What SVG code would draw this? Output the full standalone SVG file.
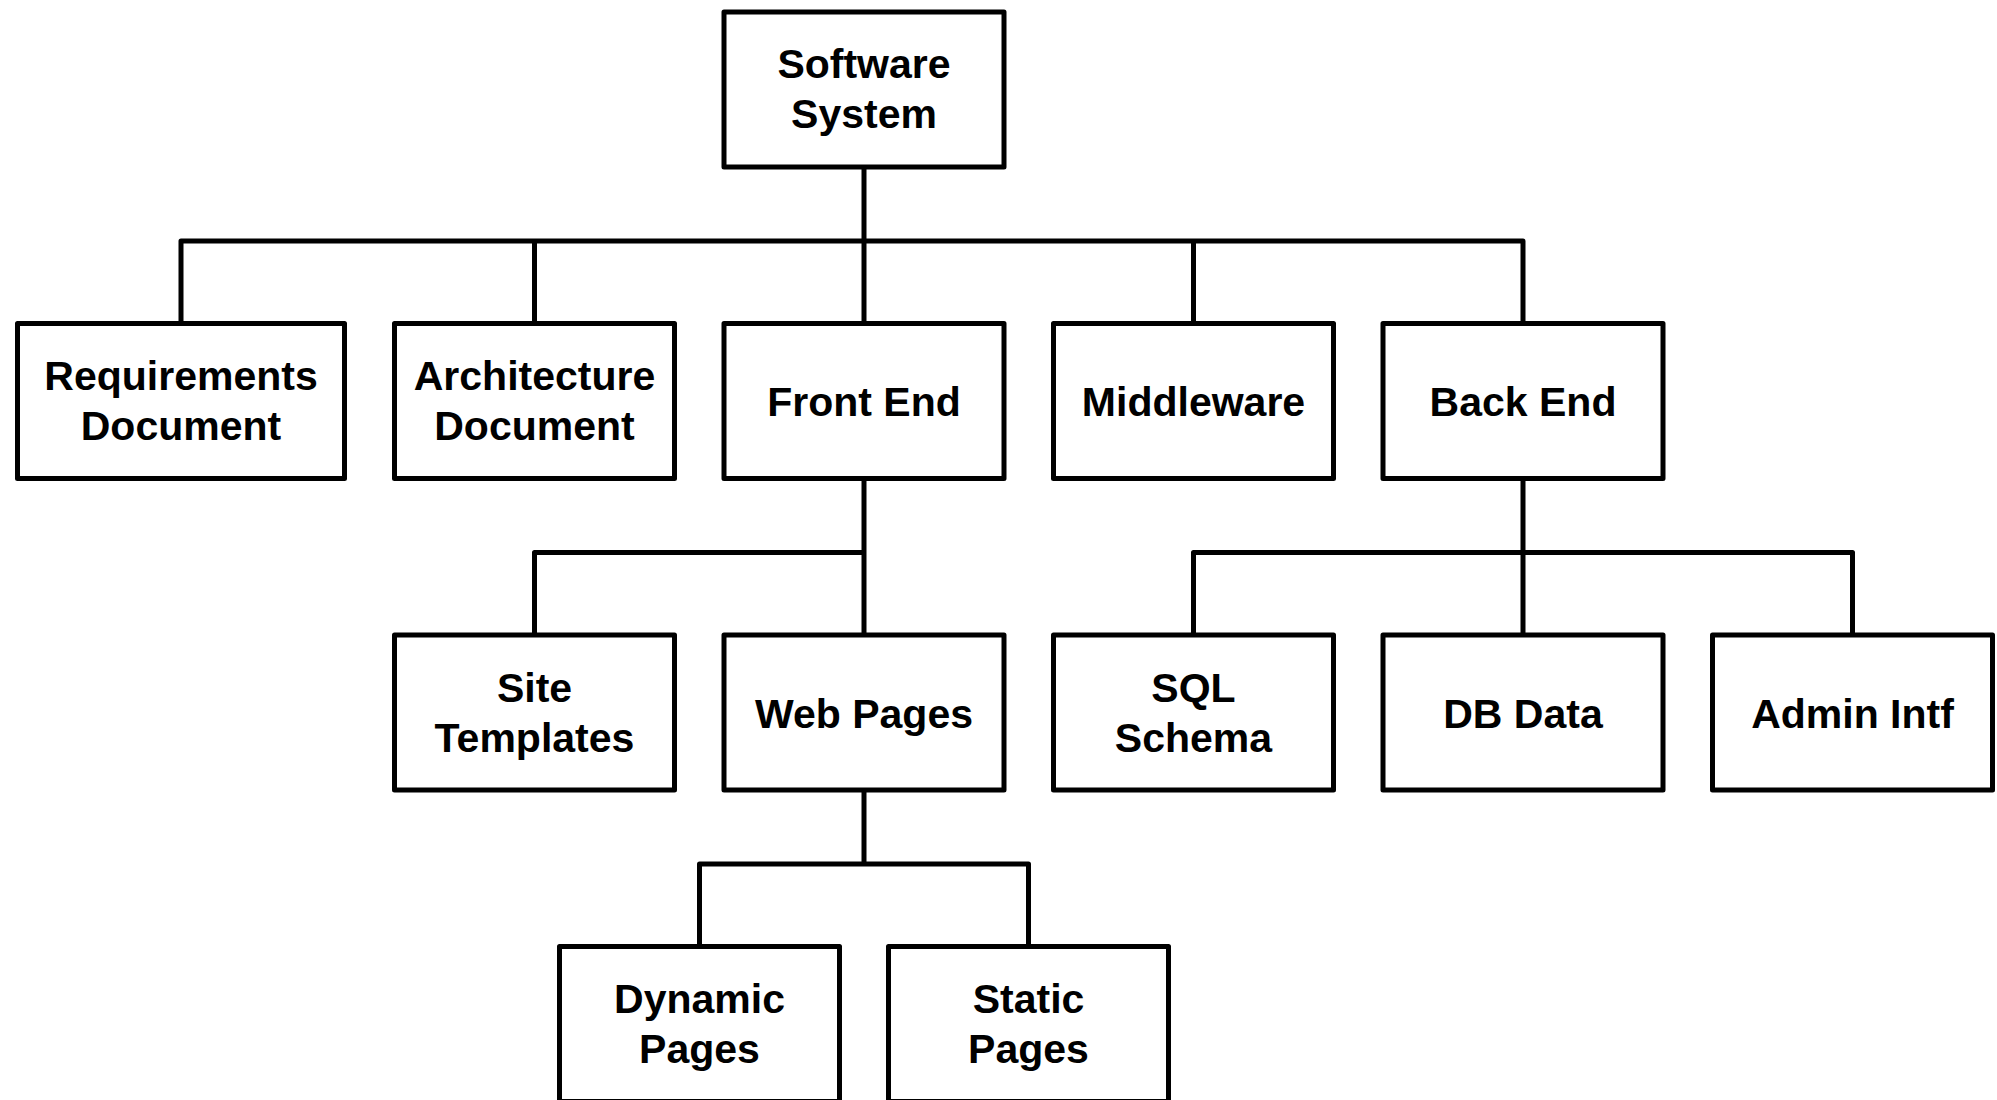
<svg xmlns="http://www.w3.org/2000/svg" width="1997" height="1100" viewBox="0 0 1997 1100">
<style>
.box{fill:#fff;stroke:#000;stroke-width:5;stroke-linejoin:round}
.conn{fill:none;stroke:#000;stroke-width:5;stroke-linejoin:round;stroke-linecap:butt}
text{font-family:"Liberation Sans",Arial,Helvetica,sans-serif;font-weight:bold;font-size:41px;fill:#000;text-anchor:middle}
</style>
<rect width="1997" height="1100" fill="#fff"/>
<g id="connectors">
<path class="conn" d="M864 167V241M181 323.5V241H1523V323.5M534.5 323.5V241M864 241V323.5M1193.5 241V323.5"/>
<path class="conn" d="M864 478.5V635M534.5 635V552.5H864"/>
<path class="conn" d="M1523 478.5V635M1193.5 635V552.5H1852.5V635"/>
<path class="conn" d="M864 790V864M699.5 946.5V864H1028.5V946.5"/>
</g>
<g id="software-system"><rect class="box" x="724" y="12" width="280" height="155"/><text x="864" y="78">Software</text><text x="864" y="128">System</text></g>
<g id="requirements-document"><rect class="box" x="17.5" y="323.5" width="327" height="155"/><text x="181" y="390">Requirements</text><text x="181" y="440">Document</text></g>
<g id="architecture-document"><rect class="box" x="394.5" y="323.5" width="280" height="155"/><text x="534.5" y="390">Architecture</text><text x="534.5" y="440">Document</text></g>
<g id="front-end"><rect class="box" x="724" y="323.5" width="280" height="155"/><text x="864" y="416">Front End</text></g>
<g id="middleware"><rect class="box" x="1053.5" y="323.5" width="280" height="155"/><text x="1193.5" y="416">Middleware</text></g>
<g id="back-end"><rect class="box" x="1383" y="323.5" width="280" height="155"/><text x="1523" y="416">Back End</text></g>
<g id="site-templates"><rect class="box" x="394.5" y="635" width="280" height="155"/><text x="534.5" y="701.5">Site</text><text x="534.5" y="751.5">Templates</text></g>
<g id="web-pages"><rect class="box" x="724" y="635" width="280" height="155"/><text x="864" y="727.5">Web Pages</text></g>
<g id="sql-schema"><rect class="box" x="1053.5" y="635" width="280" height="155"/><text x="1193.5" y="701.5">SQL</text><text x="1193.5" y="751.5">Schema</text></g>
<g id="db-data"><rect class="box" x="1383" y="635" width="280" height="155"/><text x="1523" y="727.5">DB Data</text></g>
<g id="admin-intf"><rect class="box" x="1712.5" y="635" width="280" height="155"/><text x="1852.5" y="727.5">Admin Intf</text></g>
<g id="dynamic-pages"><rect class="box" x="559.5" y="946.5" width="280" height="155"/><text x="699.5" y="1013">Dynamic</text><text x="699.5" y="1063">Pages</text></g>
<g id="static-pages"><rect class="box" x="888.5" y="946.5" width="280" height="155"/><text x="1028.5" y="1013">Static</text><text x="1028.5" y="1063">Pages</text></g>
</svg>
